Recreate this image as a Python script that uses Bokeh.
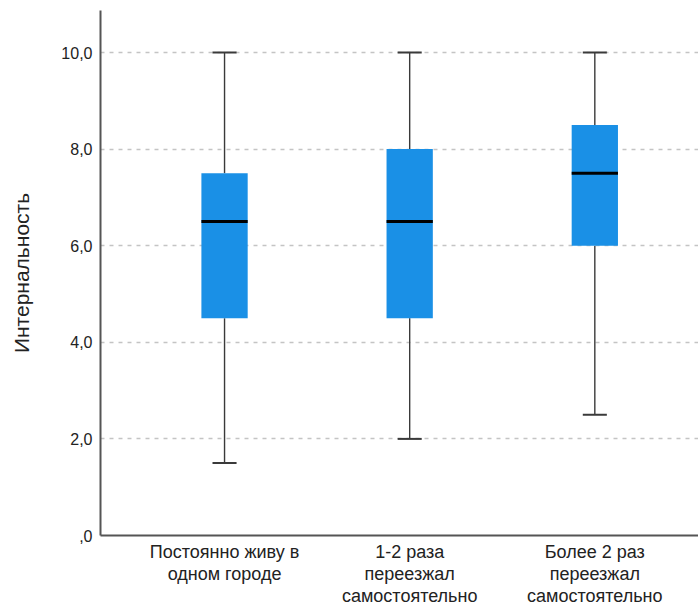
from bokeh.plotting import figure
from bokeh.models import FixedTicker, Range1d
from bokeh.embed import file_html
from bokeh.resources import INLINE

categories = ["Постоянно живу в\nодном городе", "1-2 раза\nпереезжал\nсамостоятельно", "Более 2 раз\nпереезжал\nсамостоятельно"]
positions = [1, 2, 3]
mins = [1.5, 2.0, 2.5]
q1 = [4.5, 4.5, 6.0]
medians = [6.5, 6.5, 7.5]
q3 = [7.5, 8.0, 8.5]
maxs = [10.0, 10.0, 10.0]
y_ticks = [0, 2, 4, 6, 8, 10]
y_tick_labels = [",0", "2,0", "4,0", "6,0", "8,0", "10,0"]

FONT = "Liberation Sans"
BOX = "#1a90e6"
WH = "#3a3a3a"

p = figure(width=698, height=608, output_backend="svg", toolbar_location=None,
           x_range=Range1d(0.33, 3.56), y_range=Range1d(0, 10.87),
           min_border_left=100, min_border_right=0, min_border_top=10, min_border_bottom=73)
p.outline_line_color = None
p.background_fill_color = "white"
p.border_fill_color = "white"

bw = 0.25
cw = 0.13
# whiskers
p.segment(x0=positions, y0=q3, x1=positions, y1=maxs, line_color=WH, line_width=1.4)
p.segment(x0=positions, y0=mins, x1=positions, y1=q1, line_color=WH, line_width=1.4)
p.segment(x0=[x - cw / 2 for x in positions], y0=maxs, x1=[x + cw / 2 for x in positions], y1=maxs, line_color=WH, line_width=2)
p.segment(x0=[x - cw / 2 for x in positions], y0=mins, x1=[x + cw / 2 for x in positions], y1=mins, line_color=WH, line_width=2)
# boxes
p.vbar(x=positions, width=bw, bottom=q1, top=q3, fill_color=BOX, line_color=None)
p.segment(x0=[x - bw / 2 for x in positions], y0=medians, x1=[x + bw / 2 for x in positions], y1=medians, line_color="black", line_width=3)

# grid
p.xgrid.grid_line_color = None
p.ygrid.ticker = FixedTicker(ticks=y_ticks[1:])
p.ygrid.grid_line_color = "#c4c4c4"
p.ygrid.grid_line_width = 1.5
p.ygrid.grid_line_dash = "4 5"
p.ygrid.level = "underlay"

# axes
p.yaxis.ticker = FixedTicker(ticks=y_ticks)
p.yaxis.major_label_overrides = {t: l for t, l in zip(y_ticks, y_tick_labels)}
p.xaxis.ticker = FixedTicker(ticks=positions)
p.xaxis.major_label_overrides = {x: c for x, c in zip(positions, categories)}
for ax in (p.xaxis, p.yaxis):
    ax.axis_line_color = "#555555"
    ax.axis_line_width = 2
    ax.major_tick_line_color = None
    ax.minor_tick_line_color = None
    ax.major_tick_out = 0
    ax.major_tick_in = 0
    ax.major_label_text_font = FONT
    ax.major_label_text_color = "#222222"
p.yaxis.major_label_text_font_size = "16px"
p.yaxis.major_label_standoff = 8
p.xaxis.major_label_text_font_size = "18px"
p.xaxis.major_label_text_line_height = 1.1
p.xaxis.major_label_standoff = 6
p.xaxis.major_label_text_align = "center"
p.yaxis.axis_label = "Интернальность"
p.yaxis.axis_label_text_font = FONT
p.yaxis.axis_label_text_font_style = "normal"
p.yaxis.axis_label_text_font_size = "21px"
p.yaxis.axis_label_text_color = "#222222"
p.yaxis.axis_label_standoff = 25

open("out.html", "w").write(file_html(p, INLINE))
